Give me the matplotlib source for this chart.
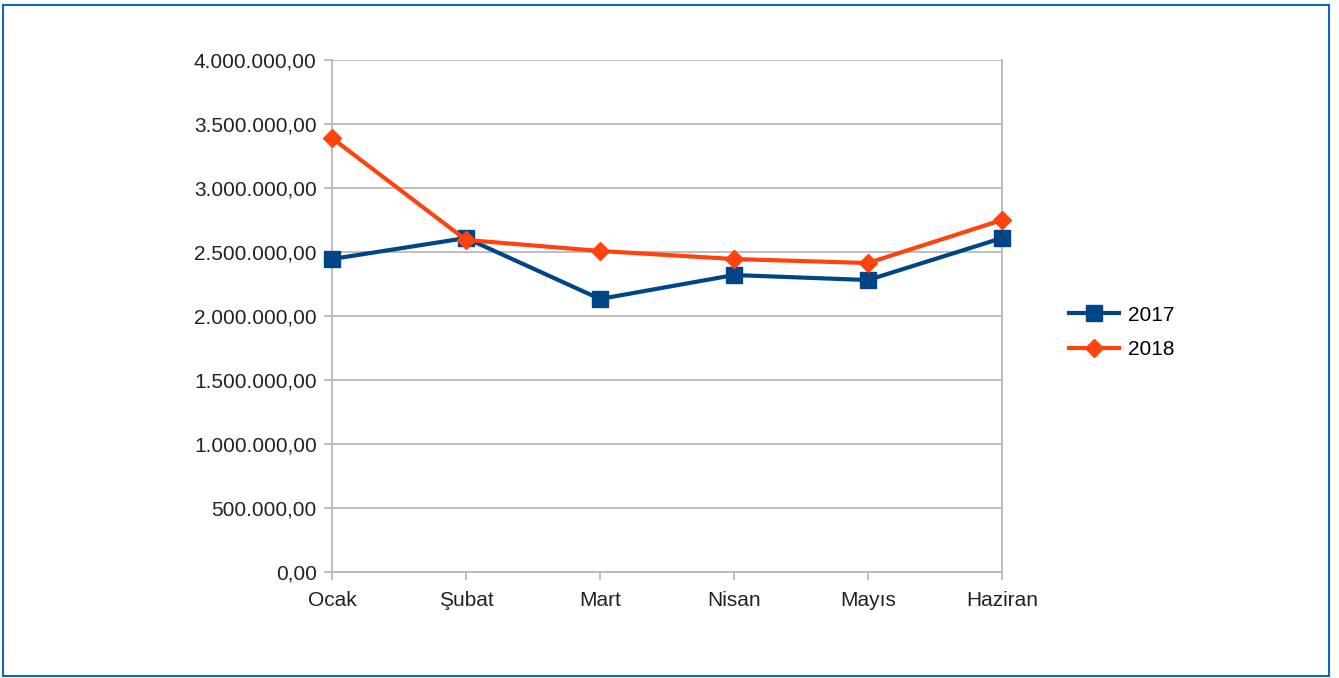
import matplotlib.pyplot as plt
from matplotlib.patches import Rectangle
from matplotlib.ticker import FuncFormatter

plt.rcParams["font.family"] = ["Liberation Sans", "DejaVu Sans"]

months = ["Ocak", "Şubat", "Mart", "Nisan", "Mayıs", "Haziran"]
sales_2017 = [2445000, 2609000, 2133000, 2320000, 2281000, 2609000]
sales_2018 = [3390000, 2594000, 2508000, 2445000, 2414000, 2750000]
y_ticks = [0, 500000, 1000000, 1500000, 2000000, 2500000, 3000000, 3500000, 4000000]


def tr_format(v, pos):
    # Turkish style: dot for thousands, comma for decimals
    s = f"{v:,.2f}"
    return s.replace(",", "X").replace(".", ",").replace("X", ".")


fig = plt.figure(figsize=(13.39, 6.78), dpi=100)
ax = fig.add_axes([332 / 1339, 1 - 572 / 678, 670 / 1339, 512 / 678])

x = range(len(months))
ax.plot(x, sales_2017, color="#004586", linewidth=3, marker="s",
        markersize=11.5, label="2017", clip_on=False, zorder=3)
ax.plot(x, sales_2018, color="#ff420e", linewidth=3, marker="D",
        markersize=9, label="2018", clip_on=False, zorder=4)

ax.set_xlim(0, len(months) - 1)
ax.set_ylim(0, 4000000)
ax.set_xticks(list(x))
ax.set_xticklabels(months)
ax.set_yticks(y_ticks)
ax.yaxis.set_major_formatter(FuncFormatter(tr_format))

ax.grid(True, axis="y", color="#b3b3b3", linewidth=1.2)
ax.set_axisbelow(True)
for side in ["left", "right", "bottom"]:
    ax.spines[side].set_color("#b3b3b3")
    ax.spines[side].set_linewidth(1.2)
ax.spines["top"].set_visible(False)

ax.tick_params(axis="both", colors="#b3b3b3", length=6, width=1.2,
               labelcolor="#222222", labelsize=15)
ax.tick_params(axis="y", pad=5)
ax.tick_params(axis="x", pad=8)

ax.legend(loc="center left", bbox_to_anchor=(1.072, 0.468), frameon=False,
          fontsize=15, handlelength=2.4, handletextpad=0.45, labelspacing=0.75)

# blue frame around the whole picture
fig.patches.append(Rectangle((0.002, 0.003), 0.9905, 0.99, transform=fig.transFigure,
                             fill=False, edgecolor="#1565c0", linewidth=1.5))

fig.savefig("out.png", dpi=100)
